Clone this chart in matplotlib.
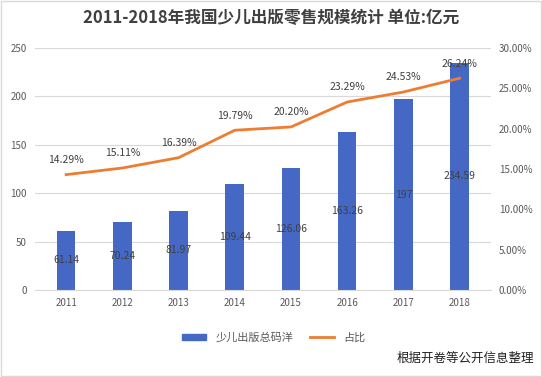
import matplotlib
matplotlib.use("Agg")
import matplotlib.pyplot as plt
from matplotlib.patches import Rectangle

plt.rcParams['font.family'] = ['Noto Sans CJK SC', 'DejaVu Sans']

years = ['2011', '2012', '2013', '2014', '2015', '2016', '2017', '2018']
sales = [61.14, 70.24, 81.97, 109.44, 126.06, 163.26, 197, 234.59]
share = [14.29, 15.11, 16.39, 19.79, 20.20, 23.29, 24.53, 26.24]
sales_labels = ['61.14', '70.24', '81.97', '109.44', '126.06', '163.26', '197', '234.59']

bar_color = '#4468C4'
line_color = '#ED7D31'
text_color = '#595959'

fig = plt.figure(figsize=(5.42, 3.77), dpi=100)
ax = fig.add_axes([0.065, 0.231, 0.84, 0.642])
ax2 = ax.twinx()

x = list(range(len(years)))
ax.bar(x, sales, width=0.33, color=bar_color, zorder=2)
for i, v in enumerate(sales):
    ax.text(i, v / 2, sales_labels[i], ha='center', va='center', fontsize=7.5, color='#404040', zorder=5)

ax2.plot(x, share, color=line_color, linewidth=2, zorder=3, label='占比')
for i, v in enumerate(share):
    ax2.text(i, v + 1.2, '%.2f%%' % v, ha='center', va='bottom', fontsize=7.5, color='#404040')

ax.set_ylim(0, 250)
ax.set_yticks(range(0, 251, 50))
ax2.set_ylim(0, 30)
ax2.set_yticks(range(0, 31, 5))
ax2.set_yticklabels(['%.2f%%' % t for t in range(0, 31, 5)])
ax.set_xlim(-0.55, 7.55)
ax.set_xticks(x)
ax.set_xticklabels(years)

ax.yaxis.grid(True, color='#D9D9D9', linewidth=0.8, zorder=0)
ax.set_axisbelow(True)
for a in (ax, ax2):
    for s in a.spines.values():
        s.set_visible(False)
    a.tick_params(length=0, labelsize=7, colors=text_color, pad=6)
ax.spines['bottom'].set_visible(True)
ax.spines['bottom'].set_color('#D9D9D9')

fig.suptitle('2011-2018年我国少儿出版零售规模统计 单位:亿元', x=0.5, y=0.975,
             fontsize=12, fontweight='bold', color='#404040')

h1 = Rectangle((0, 0), 1, 1, color=bar_color)
h2 = ax2.get_lines()[0]
fig.legend([h1, h2], ['少儿出版总码洋', '占比'], loc='center', bbox_to_anchor=(0.505, 0.105),
           ncol=2, frameon=False, fontsize=8, handlelength=2.2, handleheight=0.5,
           columnspacing=1.5, labelcolor=text_color)

fig.text(0.985, 0.048, '根据开卷等公开信息整理', ha='right', va='center', fontsize=9, color='#202020')

fig.patches.append(Rectangle((0.002, 0.003), 0.996, 0.994, transform=fig.transFigure,
                             fill=False, edgecolor='#D9D9D9', linewidth=1))

fig.savefig('out.png', dpi=100)
